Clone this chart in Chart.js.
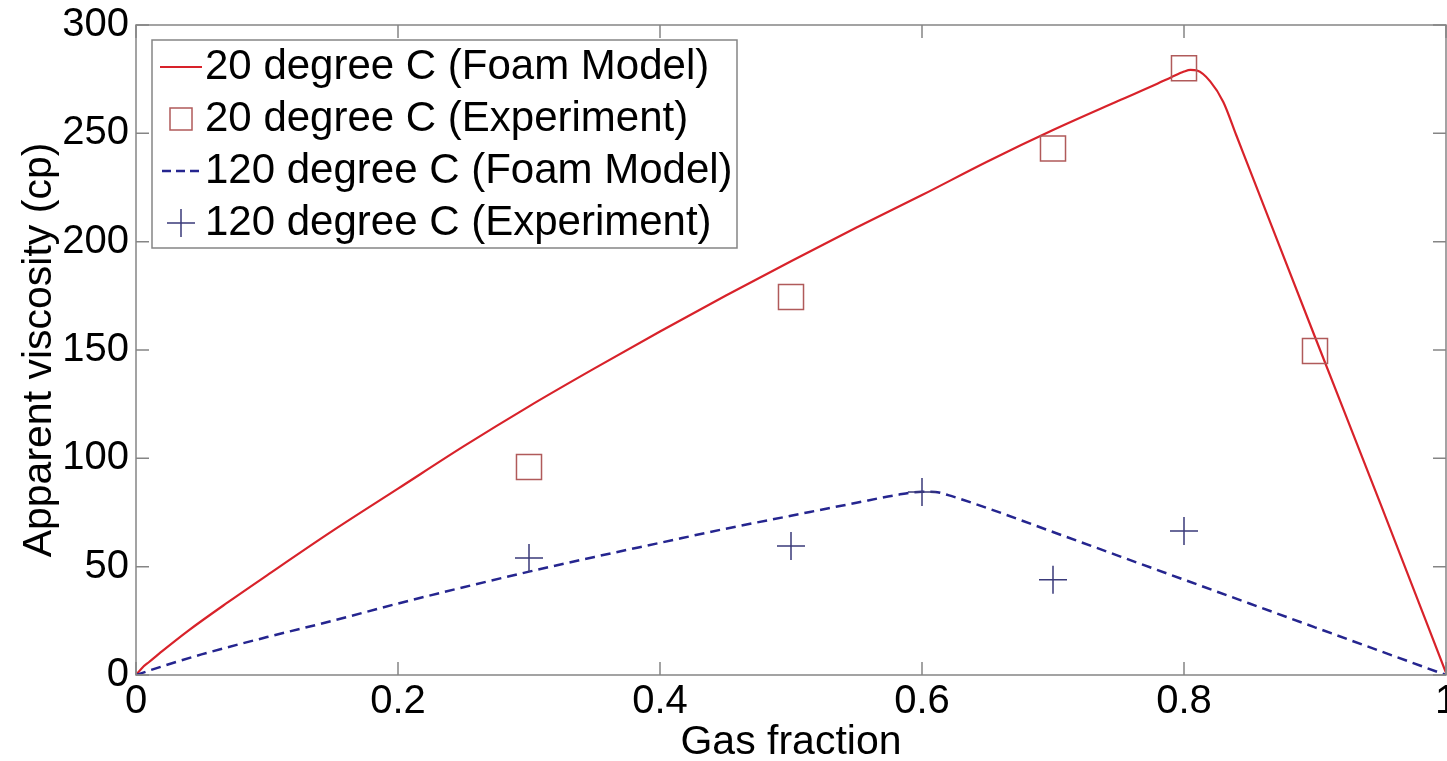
<!DOCTYPE html>
<html><head><meta charset="utf-8">
<script src="https://cdn.jsdelivr.net/npm/chart.js@4/dist/chart.umd.min.js"></script>
<style>html,body{margin:0;padding:0;background:#fff;overflow:hidden}canvas{display:block}</style>
</head><body>
<canvas id="c" width="1447" height="761"></canvas>
<script>
// ---- data ----
const modelX20 = [0,0.005,0.01,0.02,0.04,0.07,0.1,0.15,0.2,0.25,0.3,0.35,0.4,0.45,0.5,0.55,0.6,0.65,0.7,0.75,0.78,0.79,0.8,0.805,0.81,0.82,0.83,0.84,0.85,0.9,0.95,1.0];
const modelY20 = [0,3.5,6,11,20.5,33.5,46,66.5,86,105.5,124,141.5,158.5,175,191,206.5,221.5,237,251.5,265,273,275.8,278.5,279.3,279,274,264.5,249,233.5,156,79,1];
const modelX120 = [0,0.02,0.05,0.1,0.15,0.2,0.25,0.3,0.35,0.4,0.45,0.5,0.55,0.58,0.6,0.61,0.62,0.65,0.7,0.75,0.8,0.85,0.9,0.95,1.0];
const modelY120 = [0,4,9.5,17.5,25,33,40.5,47.7,54.5,61,67.5,73.5,79.5,83,84.6,84.5,83,77,66,55,44,33,22,11,0];
const expX20 = [0.3,0.5,0.7,0.8,0.9];
const expY20 = [96,174.5,243,280,149.5];
const expX120 = [0.3,0.5,0.6,0.7,0.8];
const expY120 = [54,59.5,84.5,44,66.5];
const seriesLabels = ['20 degree C (Foam Model)','20 degree C (Experiment)','120 degree C (Foam Model)','120 degree C (Experiment)'];
const xTicks = [0,0.2,0.4,0.6,0.8,1];
const yTicks = [0,50,100,150,200,250,300];
const xTitle = 'Gas fraction';
const yTitle = 'Apparent viscosity (cp)';

// ---- styles ----
const FONT = "'Liberation Sans', Arial, Helvetica, sans-serif";
const RED = '#d8222a';
const SQ = '#b05a5a';
const BLUE = '#25258f';
const PLUS = '#3a3a7a';
const AXC = '#858585';

const pts = (xs, ys) => xs.map((x, i) => ({x: x, y: ys[i]}));

const boxTicks = {
  id: 'boxTicks',
  afterDatasetsDraw(chart) {
    const {ctx, chartArea: a, scales: {x, y}} = chart;
    const L = 13;
    ctx.save();
    ctx.strokeStyle = AXC; ctx.lineWidth = 1.5;
    ctx.strokeRect(a.left, a.top, a.right - a.left, a.bottom - a.top);
    ctx.beginPath();
    xTicks.forEach(v => {
      const p = x.getPixelForValue(v);
      ctx.moveTo(p, a.bottom); ctx.lineTo(p, a.bottom - L);
      ctx.moveTo(p, a.top); ctx.lineTo(p, a.top + L);
    });
    yTicks.forEach(v => {
      const p = y.getPixelForValue(v);
      ctx.moveTo(a.left, p); ctx.lineTo(a.left + L, p);
      ctx.moveTo(a.right, p); ctx.lineTo(a.right - L, p);
    });
    ctx.stroke();
    ctx.restore();
  }
};

const legendBox = {
  id: 'legendBox',
  afterDraw(chart) {
    const {ctx, chartArea: a} = chart;
    const bx = a.left + 16, by = a.top + 15, bw = 585, bh = 208;
    ctx.save();
    ctx.fillStyle = '#fff';
    ctx.fillRect(bx, by, bw, bh);
    ctx.strokeStyle = AXC; ctx.lineWidth = 1.5;
    ctx.strokeRect(bx, by, bw, bh);
    const rowH = 52;
    const sx0 = bx + 8, sx1 = bx + 50, sc = bx + 29;
    ctx.font = '42px ' + FONT;
    ctx.textBaseline = 'middle';
    ctx.textAlign = 'left';
    seriesLabels.forEach((lab, i) => {
      const cy = by + rowH / 2 + i * rowH + 1;
      ctx.save();
      if (i === 0) {
        ctx.strokeStyle = RED; ctx.lineWidth = 2;
        ctx.beginPath(); ctx.moveTo(sx0, cy); ctx.lineTo(sx1, cy); ctx.stroke();
      } else if (i === 1) {
        ctx.strokeStyle = SQ; ctx.lineWidth = 1.5;
        ctx.strokeRect(sc - 11, cy - 11, 22, 22);
      } else if (i === 2) {
        ctx.strokeStyle = BLUE; ctx.lineWidth = 2.5;
        ctx.setLineDash([9, 5]);
        ctx.beginPath(); ctx.moveTo(sx0 + 2, cy); ctx.lineTo(sx1 + 1, cy); ctx.stroke();
      } else {
        ctx.strokeStyle = PLUS; ctx.lineWidth = 1.5;
        ctx.beginPath();
        ctx.moveTo(sc - 14, cy); ctx.lineTo(sc + 14, cy);
        ctx.moveTo(sc, cy - 14); ctx.lineTo(sc, cy + 14);
        ctx.stroke();
      }
      ctx.restore();
      ctx.fillStyle = '#000';
      ctx.fillText(lab, bx + 53, cy);
    });
    ctx.restore();
  }
};

new Chart(document.getElementById('c'), {
  type: 'scatter',
  data: {
    datasets: [
      {label: seriesLabels[0], data: pts(modelX20, modelY20), showLine: true, borderColor: RED, borderWidth: 2.2,
       pointRadius: 0, cubicInterpolationMode: 'monotone', order: 4},
      {label: seriesLabels[1], data: pts(expX20, expY20), pointStyle: 'rect', pointRadius: 17.7, borderColor: SQ,
       backgroundColor: 'rgba(0,0,0,0)', borderWidth: 1.5, order: 3},
      {label: seriesLabels[2], data: pts(modelX120, modelY120), showLine: true, borderColor: BLUE, borderWidth: 2.5,
       borderDash: [10, 6], pointRadius: 0, cubicInterpolationMode: 'monotone', order: 2},
      {label: seriesLabels[3], data: pts(expX120, expY120), pointStyle: 'cross', pointRadius: 14, borderColor: PLUS,
       borderWidth: 1.5, order: 1}
    ]
  },
  options: {
    responsive: false,
    animation: false,
    devicePixelRatio: 1,
    layout: {autoPadding: false, padding: {top: 25, right: 1, left: 0, bottom: 0}},
    plugins: {legend: {display: false}, tooltip: {enabled: false}},
    scales: {
      x: {
        type: 'linear', min: 0, max: 1,
        afterBuildTicks: s => { s.ticks = xTicks.map(v => ({value: v})); },
        afterFit: s => { s.height = 86; s.paddingLeft = 0; s.paddingRight = 0; },
        grid: {display: false, drawTicks: false, tickLength: 0},
        border: {display: false},
        ticks: {color: '#000', font: {size: 40, family: FONT}, padding: 3, maxRotation: 0, autoSkip: false,
                callback: v => String(Math.round(v * 10) / 10)},
        title: {display: true, text: xTitle, color: '#000', font: {size: 41, family: FONT}, padding: {top: 0, bottom: -6}}
      },
      y: {
        type: 'linear', min: 0, max: 300,
        afterBuildTicks: s => { s.ticks = yTicks.map(v => ({value: v})); },
        afterFit: s => { s.width = 136; s.paddingTop = 0; s.paddingBottom = 0; },
        grid: {display: false, drawTicks: false, tickLength: 0},
        border: {display: false},
        ticks: {color: '#000', font: {size: 40, family: FONT}, padding: 7, autoSkip: false,
                callback: v => String(v)},
        title: {display: true, text: yTitle, color: '#000', font: {size: 41, family: FONT}, padding: {top: 15, bottom: 0}}
      }
    }
  },
  plugins: [boxTicks, legendBox]
});
</script>
</body></html>
